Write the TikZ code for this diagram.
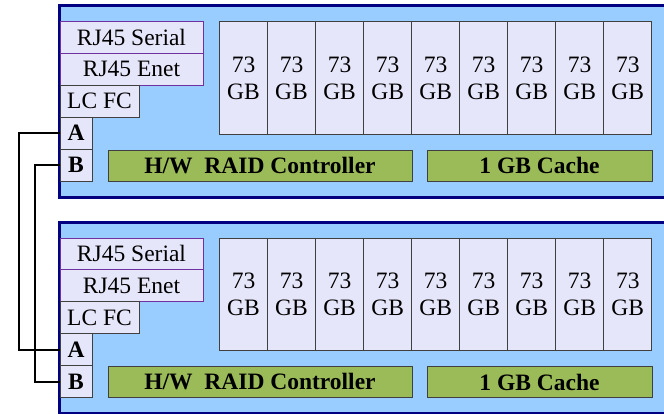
\documentclass[tikz,border=0pt]{standalone}
\usepackage{fontspec}
\setmainfont{Liberation Serif}
\newfontfamily\tnr{Liberation Serif}
\begin{document}
\begin{tikzpicture}[x=1pt,y=-1pt,
  every node/.style={inner sep=0pt,outer sep=0pt,font=\tnr\fontsize{23.5}{27}\selectfont},
  chassis/.style={fill=chfill,draw=chborder,line width=3pt},
  port/.style={draw=portborder,fill=diskfill,line width=0.9pt},
  gport/.style={draw=grayborder,fill=diskfill,line width=0.9pt},
  bport/.style={gport,font=\tnr\fontsize{23.5}{27}\selectfont\bfseries,minimum width=32pt,minimum height=32pt},
  disk/.style={draw=grayborder,fill=diskfill,line width=0.9pt,align=center,
    minimum width=48.03pt,minimum height=112.3pt},
  card/.style={draw=grayborder,fill=cardfill,line width=0.9pt,font=\tnr\fontsize{23.5}{27}\selectfont\bfseries},
  wire/.style={draw=black,line width=2pt}]
\definecolor{chfill}{HTML}{99CCFF}
\definecolor{chborder}{HTML}{000080}
\definecolor{diskfill}{HTML}{E6E6FA}
\definecolor{portborder}{HTML}{7030A0}
\definecolor{grayborder}{HTML}{404040}
\definecolor{cardfill}{HTML}{9BBB59}
\useasboundingbox (0,0) rectangle (664,413);
\clip (0,0) rectangle (664,413);
\foreach \p/\dy in {t/0,b/216.5}{
\begin{scope}[shift={(0,\dy)},name prefix=\p-]
  \path[chassis] (59.5,5.5) rectangle (700,197);
  \node[port,minimum width=143pt,minimum height=31.5pt] (serial) at (131.5,37.25) {RJ45 Serial};
  \node[port,minimum width=143pt,minimum height=32pt] (enet) at (131.5,69) {RJ45 Enet};
  \node[gport,minimum width=79pt,minimum height=32pt] (lcfc) at (99.5,101) {LC FC};
  \node[bport] (A) at (76,133) {A};
  \node[bport] (B) at (76,165) {B};
  \node[card,minimum width=304pt,minimum height=31pt] (raid) at (260,165.5) {H/W\ \ RAID Controller};
  \node[card,minimum width=225pt,minimum height=31pt] (cache) at (539.5,165.5) {1 GB Cache};
  \foreach \i in {0,...,8}
    \node[disk] (d\i) at ({219.5+48.03*(\i+0.5)},77.9) {73\\GB};
\end{scope}}
\draw[wire] (t-A.west) -- ++(-41,0) |- (b-A.west);
\draw[wire] (t-B.west) -- ++(-25,0) |- (b-B.west);
\end{tikzpicture}
\end{document}
